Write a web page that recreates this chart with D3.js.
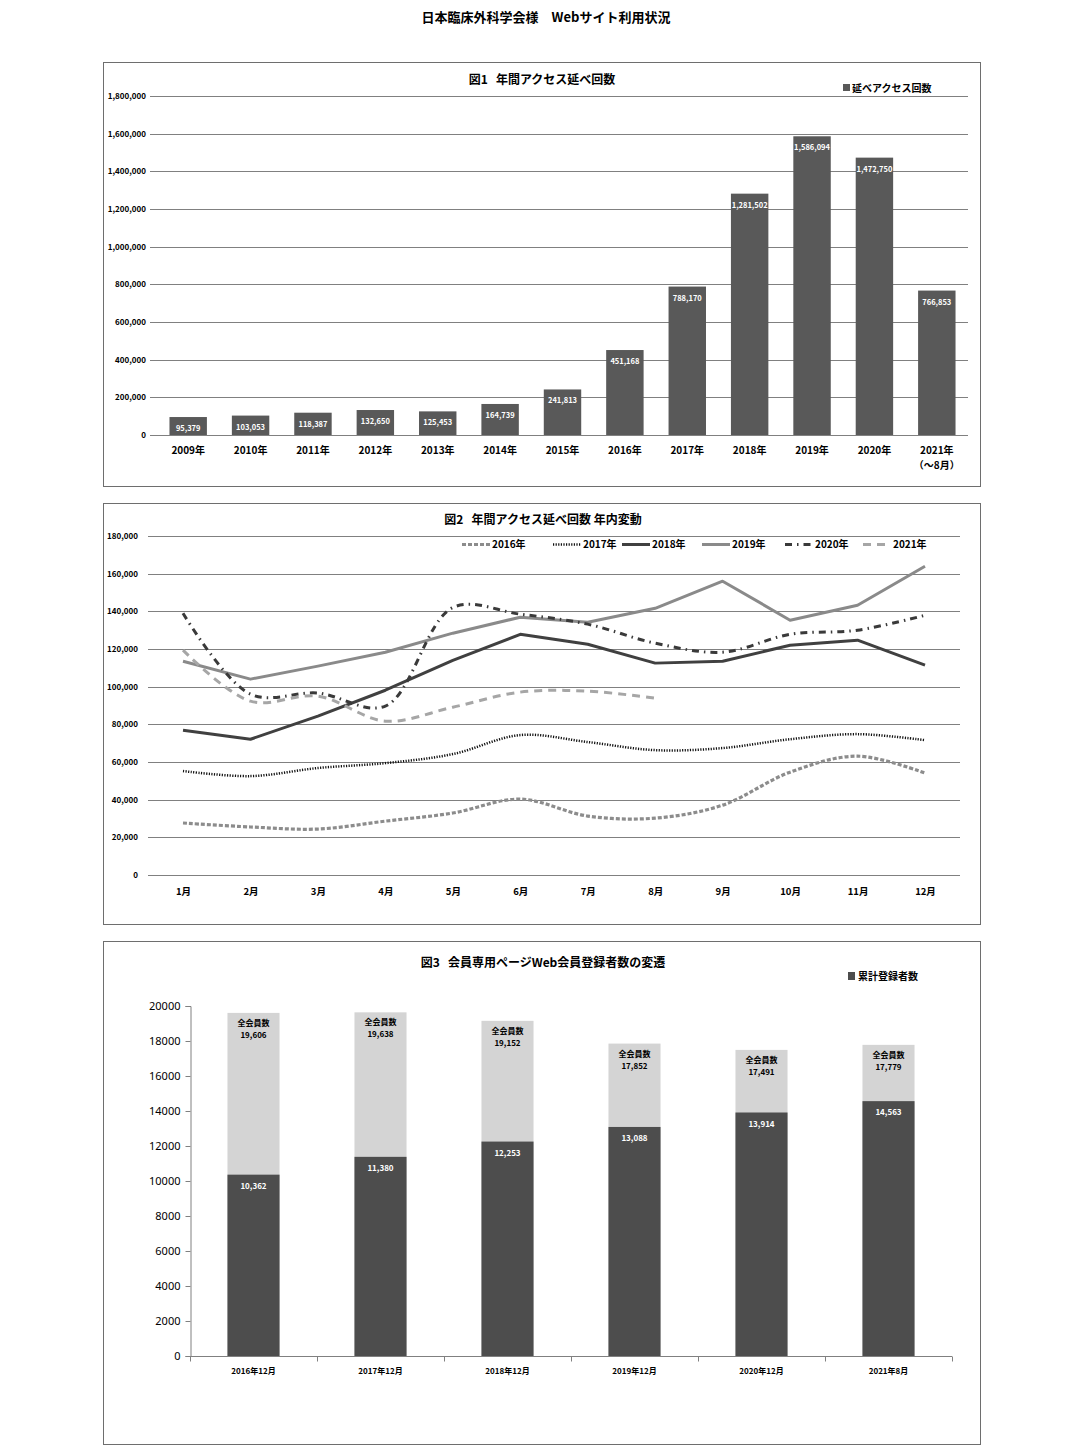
<!DOCTYPE html>
<html><head><meta charset="utf-8">
<script src="https://cdn.jsdelivr.net/npm/d3@7"></script>
<style>
body{margin:0;background:#fff}
text{font-family:"Noto Sans CJK JP","Noto Sans",sans-serif;white-space:pre}
</style></head><body>
<svg id="c" width="1092" height="1454"></svg>
<script>
// ---------- DATA ----------
const pageTitle = "日本臨床外科学会様　Webサイト利用状況";

const years1 = ["2009年","2010年","2011年","2012年","2013年","2014年","2015年","2016年","2017年","2018年","2019年","2020年","2021年"];
const access1 = [95379,103053,118387,132650,125453,164739,241813,451168,788170,1281502,1586094,1472750,766853];
const ticks1 = [0,200000,400000,600000,800000,1000000,1200000,1400000,1600000,1800000];

const months2 = ["1月","2月","3月","4月","5月","6月","7月","8月","9月","10月","11月","12月"];
const y2016 = [27600,25500,24400,28600,32900,40300,31300,30200,37100,54600,63100,54100];
const y2017 = [55200,52500,56800,59400,64200,74300,70600,66300,67400,72100,74800,71600];
const y2018 = [76900,72100,84400,98100,114000,127800,122500,112500,113500,122000,124700,111400];
const y2019 = [113500,104000,110900,118300,128400,136900,134200,141600,156000,135300,143200,163900];
const y2020 = [139000,96000,96600,89700,142000,138500,133200,123100,118300,127800,130000,137900];
const y2021 = [119400,92300,95000,81700,89100,97100,97600,93900];
const ticks2 = [0,20000,40000,60000,80000,100000,120000,140000,160000,180000];

const periods3 = ["2016年12月","2017年12月","2018年12月","2019年12月","2020年12月","2021年8月"];
const total3 = [19606,19638,19152,17852,17491,17779];
const cumulative3 = [10362,11380,12253,13088,13914,14563];
const ticks3 = [0,2000,4000,6000,8000,10000,12000,14000,16000,18000,20000];

// ---------- DRAW ----------
const svg = d3.select("#c");
const fmt = d3.format(",");

svg.append("text").attr("x",546).attr("y",22).attr("text-anchor","middle")
  .attr("font-size",13).attr("font-weight","bold").text(pageTitle);

function frame(x,y,w,h){
  svg.append("rect").attr("x",x+0.5).attr("y",y+0.5).attr("width",w).attr("height",h)
    .attr("fill","none").attr("stroke","#6e6e6e").attr("stroke-width",1);
}

// ===== Chart 1 =====
frame(103,62,877,424);
const g1 = svg.append("g");
g1.append("text").attr("x",542).attr("y",84).attr("text-anchor","middle")
  .attr("font-size",12).attr("font-weight","bold").text("図1   年間アクセス延べ回数");
g1.append("rect").attr("x",843).attr("y",84).attr("width",7).attr("height",7).attr("fill","#595959");
g1.append("text").attr("x",852).attr("y",92).attr("font-size",10).attr("font-weight","bold").text("延べアクセス回数");

const y1 = d3.scaleLinear().domain([0,1800000]).range([435,96]);
const x1 = d3.scaleBand().domain(years1).range([157,968]).paddingInner(0.4).paddingOuter(0.2);

g1.append("g").selectAll("line").data(ticks1).join("line")
  .attr("x1",150).attr("x2",968).attr("y1",d=>Math.round(y1(d))+0.5).attr("y2",d=>Math.round(y1(d))+0.5)
  .attr("stroke","#808080").attr("stroke-width",1);

const ax1 = g1.append("g").attr("transform","translate(146,0)")
  .call(d3.axisLeft(y1).tickValues(ticks1).tickSize(0).tickPadding(0).tickFormat(fmt));
ax1.select(".domain").remove();
ax1.selectAll("text").attr("font-size",8).attr("font-weight","bold").attr("fill","#000")
  .style("font-family",'"Noto Sans CJK JP",sans-serif');

g1.append("g").selectAll("rect").data(access1).join("rect")
  .attr("x",(d,i)=>x1(years1[i])).attr("width",x1.bandwidth())
  .attr("y",d=>y1(d)).attr("height",d=>y1(0)-y1(d)).attr("fill","#595959");

g1.append("g").selectAll("text").data(access1).join("text")
  .attr("x",(d,i)=>x1(years1[i])+x1.bandwidth()/2).attr("y",d=>y1(d)+14)
  .attr("text-anchor","middle").attr("font-size",7.5).attr("font-weight","bold").attr("fill","#fff")
  .text(d=>fmt(d));

const ax1x = g1.append("g").attr("transform","translate(0,435)")
  .call(d3.axisBottom(x1).tickSize(0).tickPadding(12));
ax1x.select(".domain").remove();
ax1x.selectAll("text").attr("font-size",10).attr("font-weight","bold").attr("fill","#000")
  .style("font-family",'"Noto Sans CJK JP",sans-serif');
g1.append("text").attr("x",x1("2021年")+x1.bandwidth()/2).attr("y",469).attr("text-anchor","middle")
  .attr("font-size",10).attr("font-weight","bold").text("（～8月）");

// ===== Chart 2 =====
frame(103,503,877,421);
const g2 = svg.append("g");
g2.append("text").attr("x",543).attr("y",524).attr("text-anchor","middle")
  .attr("font-size",12).attr("font-weight","bold").text("図2   年間アクセス延べ回数 年内変動");

const y2 = d3.scaleLinear().domain([0,180000]).range([875,536]);
const x2 = d3.scalePoint().domain(months2).range([183,925]);

g2.append("g").selectAll("line").data(ticks2).join("line")
  .attr("x1",148).attr("x2",960).attr("y1",d=>Math.round(y2(d))+0.5).attr("y2",d=>Math.round(y2(d))+0.5)
  .attr("stroke","#808080").attr("stroke-width",1);

const ax2 = g2.append("g").attr("transform","translate(138,0)")
  .call(d3.axisLeft(y2).tickValues(ticks2).tickSize(0).tickPadding(0).tickFormat(fmt));
ax2.select(".domain").remove();
ax2.selectAll("text").attr("font-size",8).attr("font-weight","bold").attr("fill","#000")
  .style("font-family",'"Noto Sans CJK JP",sans-serif');

const ax2x = g2.append("g").attr("transform","translate(0,875)")
  .call(d3.axisBottom(x2).tickSize(0).tickPadding(13));
ax2x.select(".domain").remove();
ax2x.selectAll("text").attr("font-size",9.5).attr("font-weight","bold").attr("fill","#000")
  .style("font-family",'"Noto Sans CJK JP",sans-serif');

const series2 = [
  {name:"2016年", data:y2016, color:"#8c8c8c", w:3.2, dash:"4,2", smooth:true},
  {name:"2017年", data:y2017, color:"#111", w:2.5, dash:"1.2,1.4", smooth:true},
  {name:"2018年", data:y2018, color:"#404040", w:3, dash:null, smooth:false},
  {name:"2019年", data:y2019, color:"#8a8a8a", w:3, dash:null, smooth:false},
  {name:"2020年", data:y2020, color:"#3a3a3a", w:3, dash:"7,5,1.5,5", smooth:true},
  {name:"2021年", data:y2021, color:"#a6a6a6", w:3, dash:"8,6", smooth:true}
];
series2.forEach(s=>{
  const line = d3.line().x((d,i)=>x2(months2[i])).y(d=>y2(d))
    .curve(s.smooth ? d3.curveCatmullRom.alpha(0.5) : d3.curveLinear);
  g2.append("path").datum(s.data).attr("d",line).attr("fill","none")
    .attr("stroke",s.color).attr("stroke-width",s.w)
    .attr("stroke-dasharray",s.dash).attr("stroke-linejoin","round");
});
const legX = [462,553,622,702,785,863];
series2.forEach((s,i)=>{
  g2.append("line").attr("x1",legX[i]).attr("x2",legX[i]+28).attr("y1",544.5).attr("y2",544.5)
    .attr("stroke",s.color).attr("stroke-width",s.w).attr("stroke-dasharray",s.dash);
  g2.append("text").attr("x",legX[i]+30).attr("y",548).attr("font-size",10).attr("font-weight","bold").text(s.name);
});

// ===== Chart 3 =====
frame(103,941,877,503);
const g3 = svg.append("g");
g3.append("text").attr("x",543).attr("y",967).attr("text-anchor","middle")
  .attr("font-size",12).attr("font-weight","bold").text("図3   会員専用ページWeb会員登録者数の変遷");
g3.append("rect").attr("x",848).attr("y",972).attr("width",7).attr("height",8).attr("fill","#4d4d4d");
g3.append("text").attr("x",858).attr("y",980).attr("font-size",10).attr("font-weight","bold").text("累計登録者数");

const y3 = d3.scaleLinear().domain([0,20000]).range([1356,1006]);
const x3 = d3.scaleBand().domain(periods3).range([190,952]).paddingInner(0.59).paddingOuter(0.295);

g3.append("g").selectAll("rect").data(total3).join("rect")
  .attr("x",(d,i)=>x3(periods3[i])).attr("width",x3.bandwidth())
  .attr("y",d=>y3(d)).attr("height",d=>y3(0)-y3(d)).attr("fill","#d4d4d4");
g3.append("g").selectAll("rect").data(cumulative3).join("rect")
  .attr("x",(d,i)=>x3(periods3[i])).attr("width",x3.bandwidth())
  .attr("y",d=>y3(d)).attr("height",d=>y3(0)-y3(d)).attr("fill","#4d4d4d");

const tl = g3.append("g");
total3.forEach((d,i)=>{
  const cx = x3(periods3[i])+x3.bandwidth()/2;
  tl.append("text").attr("x",cx).attr("y",y3(d)+13).attr("text-anchor","middle")
    .attr("font-size",8).attr("font-weight","bold").text("全会員数");
  tl.append("text").attr("x",cx).attr("y",y3(d)+25).attr("text-anchor","middle")
    .attr("font-size",8).attr("font-weight","bold").text(fmt(d));
});
g3.append("g").selectAll("text").data(cumulative3).join("text")
  .attr("x",(d,i)=>x3(periods3[i])+x3.bandwidth()/2).attr("y",d=>y3(d)+14)
  .attr("text-anchor","middle").attr("font-size",8).attr("font-weight","bold").attr("fill","#fff")
  .text(d=>fmt(d));

const ax3 = g3.append("g").attr("transform","translate(190.5,0)")
  .call(d3.axisLeft(y3).tickValues(ticks3).tickSize(5).tickPadding(5).tickFormat(d3.format("d")));
ax3.select(".domain").attr("stroke","#808080");
ax3.selectAll(".tick line").attr("stroke","#808080");
ax3.selectAll("text").attr("font-size",11).attr("fill","#000")
  .style("font-family",'"Noto Sans","DejaVu Sans",sans-serif');

const ax3x = g3.append("g").attr("transform","translate(0,1356.5)");
ax3x.append("line").attr("x1",190).attr("x2",952).attr("stroke","#808080");
const bounds = periods3.map(p=>x3(p)-x3.step()*x3.paddingInner()/2).concat([952]);
ax3x.selectAll("line.t").data(bounds).join("line").attr("class","t")
  .attr("x1",d=>Math.round(d)+0.5).attr("x2",d=>Math.round(d)+0.5).attr("y1",0).attr("y2",5).attr("stroke","#808080");
ax3x.selectAll("text").data(periods3).join("text")
  .attr("x",d=>x3(d)+x3.bandwidth()/2).attr("y",17).attr("text-anchor","middle")
  .attr("font-size",8).attr("font-weight","bold").text(d=>d);
</script>
</body></html>
